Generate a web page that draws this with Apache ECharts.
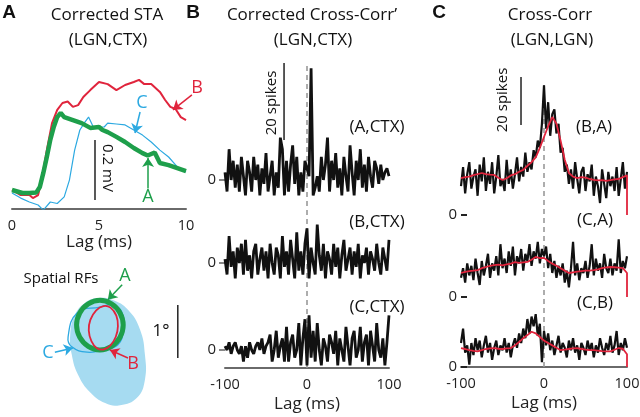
<!DOCTYPE html>
<html><head><meta charset="utf-8">
<script src="https://cdn.jsdelivr.net/npm/echarts@6/dist/echarts.min.js"></script>
<style>html,body{margin:0;padding:0;background:#fff}#c{width:640px;height:417px}</style>
</head><body><div id="c"></div>
<script>
// ---------- Panel A: corrected STA (lag ms, mV relative to baseline) ----------
const staLagA = [0,0.3,0.6,1.0,1.4,1.6,1.8,2.0,2.2,2.4,2.6,2.8,3.0,3.5,4.0,4.5,5.0,5.2,5.5,6.0,6.5,7.0,7.5,7.8,8.2,8.5,9.0,9.5,10];
const staA    = [0,-0.005,-0.01,-0.01,-0.008,0.01,0.057,0.11,0.167,0.21,0.243,0.257,0.243,0.233,0.223,0.207,0.21,0.2,0.193,0.177,0.16,0.14,0.123,0.115,0.125,0.09,0.083,0.073,0.063];
const staLagB = [0,0.5,1.0,1.2,1.5,1.7,2.0,2.3,2.6,2.9,3.2,3.5,3.8,4.1,4.5,5.0,5.5,6.0,6.5,7.0,7.3,7.6,8.0,8.5,8.8,9.1,9.4,9.7,10];
const staB    = [0,-0.017,-0.017,-0.027,-0.017,0.033,0.133,0.223,0.267,0.29,0.295,0.277,0.283,0.31,0.333,0.36,0.353,0.333,0.35,0.36,0.367,0.353,0.353,0.327,0.3,0.277,0.27,0.243,0.233];
const staLagC = [0,0.5,1.0,1.5,1.8,2.2,2.6,3.0,3.3,3.6,3.9,4.2,4.4,4.7,5.0,5.3,5.5,6.0,6.5,7.0,7.5,8.0,8.5,9.0,9.5,10];
const staC    = [-0.01,-0.027,-0.04,-0.05,-0.067,-0.04,-0.045,-0.023,0.033,0.133,0.2,0.227,0.243,0.207,0.21,0.21,0.223,0.22,0.217,0.2,0.183,0.16,0.133,0.11,0.077,0.06];
const staTicks = [0, 5, 10];

// ---------- Spatial RFs (degrees) ----------
const rfBlobC = [[1.08,2.11],[1.36,2.08],[1.66,1.89],[1.89,1.51],[1.98,1.04],[1.98,0.57],[1.83,0.23],[1.51,0.09],[1.23,0.13],[0.94,0.34],[0.72,0.66],[0.60,1.04],[0.57,1.42],[0.66,1.79],[0.85,2.02]];
const rfContourC = [[1.13,1.94],[0.70,1.83],[0.53,1.38],[0.60,1.19],[0.89,1.09],[1.19,1.13],[1.47,1.23],[1.57,1.51],[1.55,1.83],[1.38,1.98]];
const rfContourA = [[1.57,1.60],[1.51,1.83],[1.35,2.00],[1.13,2.07],[0.91,2.00],[0.75,1.83],[0.69,1.60],[0.75,1.37],[0.91,1.20],[1.13,1.13],[1.35,1.20],[1.51,1.37]];
const rfContourB = [[1.47,1.58],[1.44,1.78],[1.33,1.93],[1.20,1.96],[1.06,1.88],[0.95,1.70],[0.92,1.50],[0.97,1.30],[1.07,1.17],[1.20,1.14],[1.33,1.22],[1.43,1.38]];

// ---------- Panel B: corrected cross-correlograms (spikes per 2.5 ms bin) ----------
const binWidth = 2.5;
const binLags = Array.from({length: 81}, (_, i) => -100 + i * binWidth);
const ccA_CTX = [2,-3,8,0,5,-2,4,-3,6,1, -4,5,2,-3,6,0,4,-4,3,-1, 7,-3,1,5,-4,2,-2,11,8,-4, 5,-3,4,9,-1,6,-4,2,-3,5,
                 3,1,29,-4,-2,1,-3,6,0,4, 11,-3,5,0,7,-2,3,-4,6,1, -3,9,2,-4,5,0,8,-2,4,-3, 6,1,-2,5,3,-1,4,0,2,3,1];
const ccB_CTX = [1,-3,7,-1,3,-4,4,0,5,-3, 6,-2,2,-4,3,5,-3,1,4,-2, 3,-4,5,0,-3,4,2,-4,7,-1, 3,-3,6,1,-4,8,-2,3,-3,5,
                 9,-4,4,0,-3,10,2,-2,5,-4, 3,1,-3,5,-1,4,-4,2,6,-2, 1,4,-3,3,-1,5,-4,2,0,4, -3,3,1,-2,5,0,-3,4,1,-2,6];
const ccC_CTX = [1,0,2,-1,1,2,0,-1,1,-3, 1,-2,2,0,-1,1,2,0,3,-1, 1,2,4,-3,0,5,-2,1,3,-3, 6,-3,2,4,-2,0,7,-4,3,8,
                 -4,9,-2,5,-3,7,0,-4,3,1, -3,4,2,-1,5,-4,3,0,-3,6, 1,-4,3,5,-2,0,6,-3,2,4, -4,5,1,-3,7,0,-2,3,-4,2,9];

// ---------- Panel C: LGN-LGN cross-correlograms (spikes) ----------
const ccBA = [12,20,9,17,22,11,16,19,8,21, 14,24,10,18,13,22,9,16,25,12, 15,10,23,13,19,11,17,24,14,20, 16,26,18,22,19,27,24,31,28,38,
              54,36,47,33,42,44,34,38,26,28, 18,21,13,19,11,22,15,9,18,20, 10,17,14,21,8,16,12,5,19,13, 7,18,12,16,10,20,8,15,22,11,18];
const ccCA = [8,12,6,14,9,13,7,16,10,5, 15,9,13,18,8,14,11,17,9,22, 12,16,10,19,13,21,9,17,14,20, 11,18,15,22,13,19,16,23,14,20,
              17,21,12,18,10,15,8,13,9,14, 6,11,4,12,23,9,14,7,12,10, 15,8,13,22,9,16,11,14,8,18, 12,10,16,9,14,11,24,10,15,12,17];
const ccCB = [10,16,6,9,1,10,5,12,7,11, 4,9,13,6,10,3,8,11,5,9, 7,12,6,10,4,9,12,8,14,10, 16,12,20,14,21,17,22,13,18,2,
              15,9,14,7,11,5,9,13,6,10, 8,4,11,7,12,6,9,3,10,8, 5,11,7,10,4,9,6,12,8,5, 10,7,13,6,9,15,5,10,7,12,8];
const smoothLags = Array.from({length: 41}, (_, i) => -100 + i * 5);
const smBA = [15.4,15.8,16,16.6,17,17.5,17,16.8,16.7,15.5, 14.6,15.3,16.5,17,18,18.8,20.5,22,24,28,
              32.5,37,40.8,38,31,23,17.5,16,15.4,15.8, 15.6,15,14.6,14.4,14.5,14.2,14.5,14.8,15,15.8, 16.5];
const smCA = [10,10.5,10.8,11,11.2,12,12.5,13,13.3,13.5, 13.2,13.6,13.9,14.5,14.2,14.4,14.6,15.5,16.7,16.2,
              16.3,15,13.9,13,12,11,10,10.3,10.6,10.8, 11,11,11.2,11.5,12,12.3,12.5,12.4,12.2,12, 10];
const smCB = [7.9,7.5,7,6.7,6.5,7,7.5,7.8,7.9,7.6, 7.5,7.8,7.9,9,10.4,12,13.3,14.7,14,12.5,
              11,10,9,8,7,7.2,7.5,7.8,7.9,7.5, 7.2,7,7,6.8,6.6,6.5,6.5,7.2,7.9,7.6, 5.3];
const lagTicks = [-100, 0, 100];

// scale bars
const scaleMv = 0.2, scaleSpikes = 20, scaleDeg = 1;

// ---------- styling ----------
const RED = '#e0243c', CYAN = '#2ca9e1', GREEN = '#1e9f4b', BLOB = '#a6dbf1', BLK = '#111';
const FONT = '"Open Sans","Noto Sans",sans-serif';
const AXC = '#6a6a6a';

function rowGrid(left, width, zeroPx, ppu, min, max) {
  return {left, width, top: zeroPx - max * ppu, height: (max - min) * ppu, containLabel: false, outerBoundsMode: 'none'};
}
const grids = [
  rowGrid(12, 174, 190, 300, -0.0633, 0.4),           // 0 STA
  {left: 40, width: 148.4, top: 270, height: 139.92, containLabel:false, outerBoundsMode:'none'}, // 1 RF
  rowGrid(225, 164, 180, 3.85, -5, 31),               // 2
  rowGrid(225, 164, 263, 3.85, -6, 11),               // 3
  rowGrid(225, 164, 350, 3.85, -4.7, 11),             // 4
  {left: 225, width: 164, top: 66, height: 302, containLabel:false, outerBoundsMode:'none'}, // 5 overlay
  rowGrid(461, 166, 215, 2.4, -1, 60),                // 6
  rowGrid(461, 166, 297, 2.4, -1, 25),                // 7
  rowGrid(461, 166, 367, 2.4, 0, 22),                 // 8
  {left: 461, width: 166, top: 85, height: 282, containLabel:false, outerBoundsMode:'none'}  // 9 overlay
];
const yRanges = [[-0.0633,0.4],[0,2.64],[-5,31],[-6,11],[-4.7,11],[0,1],[-1,60],[-1,25],[0,22],[0,1]];

const xAxes = grids.map((g, i) => {
  const base = {type: 'value', gridIndex: i, splitLine: {show: false}, min: -100, max: 100, show: false,
                axisLine: {onZero: false}};
  if (i === 0) return Object.assign(base, {min: 0, max: 10, interval: 5, show: true});
  if (i === 1) return Object.assign(base, {min: 0, max: 2.8});
  if (i === 4 || i === 8) return Object.assign(base, {show: true, interval: 100});
  return base;
});
xAxes.forEach((a, i) => {
  if (!a.show) return;
  Object.assign(a, {
    axisLine: {show: true, onZero: false, lineStyle: {color: AXC, width: 2}},
    axisTick: {show: false},
    axisLabel: {color: '#222', fontSize: 14.5, fontFamily: FONT, margin: 9,
                customValues: i === 0 ? staTicks : lagTicks},
    name: 'Lag (ms)', nameLocation: 'middle', nameGap: i === 0 ? 22 : 28,
    nameTextStyle: {color: '#222', fontSize: 17, fontFamily: FONT}
  });
});
const yAxes = grids.map((g, i) => {
  const a = {type: 'value', gridIndex: i, min: yRanges[i][0], max: yRanges[i][1], splitLine: {show: false}, show: false,
             axisLine: {show: false, onZero: false}};
  if ([2,3,4,6,7,8].includes(i)) {
    const isC = i >= 6;
    Object.assign(a, {
      show: true,
      axisLine: {show: false, onZero: false},
      axisTick: {show: true, customValues: [0], length: 6, inside: isC,
                 lineStyle: {color: isC ? '#222' : '#888', width: 2}},
      axisLabel: {show: true, customValues: [0], color: '#222', fontSize: 15, fontFamily: FONT, margin: isC ? 4 : 9}
    });
  }
  return a;
});

const pairs = (xs, ys) => ys.map((v, i) => [xs[i], v]);
function line(gi, data, color, width, extra) {
  return Object.assign({type: 'line', xAxisIndex: gi, yAxisIndex: gi, data, showSymbol: false, symbol: 'none',
    lineStyle: {color, width}, z: 3, animation: false, silent: true}, extra || {});
}
function arrows(gi, list, color) {
  return {type: 'lines', coordinateSystem: 'cartesian2d', xAxisIndex: gi, yAxisIndex: gi, clip: false,
    symbol: ['none', 'arrow'], symbolSize: 9, lineStyle: {color, width: 1.5, opacity: 1},
    data: list.map(c => ({coords: c})), z: 5, animation: false, silent: true};
}
function shape(gi, pts, style) {
  return {type: 'custom', xAxisIndex: gi, yAxisIndex: gi, data: [[0, 0]], clip: false, silent: true, animation: false,
    renderItem: (p, api) => ({type: 'polygon', shape: {points: pts.map(q => api.coord(q)), smooth: 0.45}, style})};
}

const series = [
  // panel A
  line(0, pairs(staLagC, staC), CYAN, 1.2),
  line(0, pairs(staLagB, staB), RED, 2),
  line(0, pairs(staLagA, staA), GREEN, 4.5),
  line(0, [[4.77, -0.033], [4.77, -0.033 + scaleMv]], '#222', 1.5),
  arrows(0, [[[10.34, 0.317], [9.25, 0.267]]], RED),
  arrows(0, [[[7.36, 0.26], [7.07, 0.19]]], CYAN),
  arrows(0, [[[7.82, 0.005], [7.82, 0.107]]], GREEN),
  // RFs
  shape(1, rfBlobC, {fill: BLOB, stroke: 'none'}),
  shape(1, rfContourC, {fill: 'none', stroke: CYAN, lineWidth: 1.3}),
  shape(1, rfContourA, {fill: 'none', stroke: GREEN, lineWidth: 5}),
  shape(1, rfContourB, {fill: 'none', stroke: RED, lineWidth: 1.8}),
  line(1, [[2.6, 0.98], [2.6, 0.98 + scaleDeg]], '#222', 1.5),
  arrows(1, [[[1.55, 2.36], [1.28, 2.08]]], GREEN),
  arrows(1, [[[0.28, 1.09], [0.62, 1.17]]], CYAN),
  arrows(1, [[[1.66, 0.98], [1.32, 1.13]]], RED),
  // panel B
  line(5, [[0, 0], [0, 1]], '#999', 1.6, {z: 1, lineStyle: {color: '#999', width: 1.6, type: [5, 4]}}),
  line(2, pairs(binLags, ccA_CTX), BLK, 2.8),
  line(3, pairs(binLags, ccB_CTX), BLK, 2.8),
  line(4, pairs(binLags, ccC_CTX), BLK, 2.8),
  line(2, [[-28, 10.4], [-28, 10.4 + scaleSpikes]], '#222', 1.5),
  // panel C
  line(9, [[0, 0], [0, 1]], '#999', 1.6, {z: 1, lineStyle: {color: '#999', width: 1.6, type: [5, 4]}}),
  line(6, pairs(binLags, ccBA), BLK, 2.2),
  line(7, pairs(binLags, ccCA), BLK, 2.2),
  line(8, pairs(binLags, ccCB), BLK, 2.2),
  line(6, pairs(smoothLags, smBA).concat([[100, 0]]), RED, 1.8, {z: 4}),
  line(7, pairs(smoothLags, smCA).concat([[100, 0]]), RED, 1.8, {z: 4}),
  line(8, pairs(smoothLags, smCB).concat([[100, 0]]), RED, 1.8, {z: 4}),
  line(6, [[-27.7, 37.5], [-27.7, 37.5 + scaleSpikes]], '#222', 1.5)
];

function txt(text, x, y, opt) {
  opt = opt || {};
  return {type: 'text', x, y, rotation: opt.rot || 0, silent: true, z: 10,
    style: {text, fill: opt.color || '#111', align: 'center', verticalAlign: 'middle',
      font: (opt.bold ? 'bold ' : '') + (opt.size || 17) + 'px ' + (opt.family || FONT)}};
}
const boldF = '"Liberation Sans",Arial,sans-serif';
const graphics = [
  txt('A', 9, 13, {bold: true, size: 19, family: boldF}),
  txt('B', 193, 13, {bold: true, size: 19, family: boldF}),
  txt('C', 439, 13, {bold: true, size: 19, family: boldF}),
  txt('Corrected STA', 107, 15), txt('(LGN,CTX)', 108, 40),
  txt('Corrected Cross-Corr\u2019', 312, 15), txt('(LGN,CTX)', 313, 40),
  txt('Cross-Corr', 550, 15), txt('(LGN,LGN)', 552, 40),
  txt('(A,CTX)', 377, 127), txt('(B,CTX)', 377, 222), txt('(C,CTX)', 377, 307),
  txt('(B,A)', 594, 127), txt('(C,A)', 595, 220), txt('(C,B)', 595, 303),
  txt('Spatial RFs', 61, 279, {size: 15}),
  txt('1\u00b0', 161, 331, {size: 17}),
  txt('B', 197, 88, {color: RED, size: 18}), txt('C', 142, 103, {color: CYAN, size: 18}), txt('A', 148, 197, {color: GREEN, size: 18}),
  txt('A', 125, 276, {color: GREEN, size: 18}), txt('C', 48, 353, {color: CYAN, size: 18}), txt('B', 133, 364, {color: RED, size: 18}),
  txt('0.2 mV', 107, 168, {rot: -Math.PI / 2, size: 15}),
  txt('20 spikes', 272, 103, {rot: Math.PI / 2, size: 15}),
  txt('20 spikes', 503, 100, {rot: Math.PI / 2, size: 15})
];

const chart = echarts.init(document.getElementById('c'), null, {renderer: 'canvas'});
chart.setOption({
  animation: false,
  backgroundColor: '#fff',
  grid: grids, xAxis: xAxes, yAxis: yAxes, series,
  graphic: {elements: graphics}
});
</script>
</body></html>
